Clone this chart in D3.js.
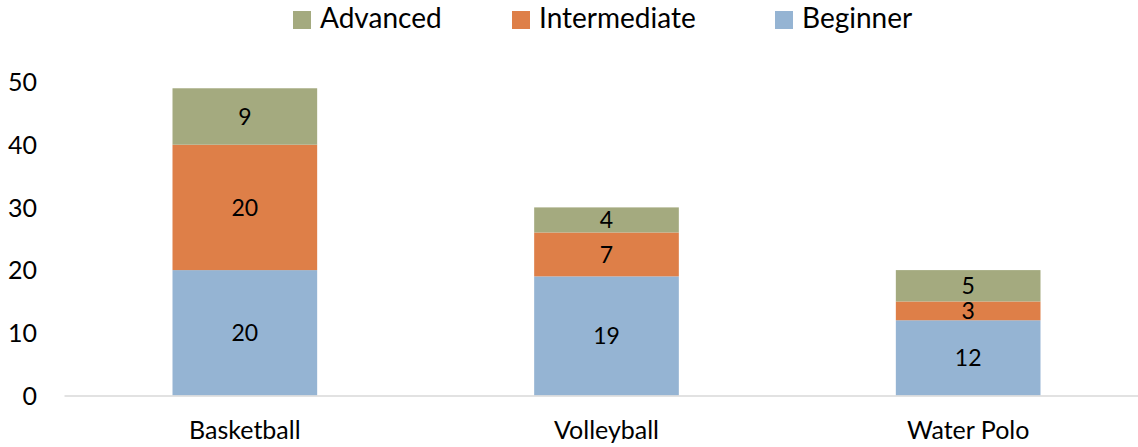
<!DOCTYPE html>
<html>
<head>
<meta charset="utf-8">
<script src="https://cdn.jsdelivr.net/npm/d3@7"></script>
<style>
  body { margin: 0; background: #fff; }
  text { font-family: Lato, "Open Sans", sans-serif; fill: #000; }
</style>
</head>
<body>
<svg id="chart"></svg>
<script>
// data
var sports = ["Basketball", "Volleyball", "Water Polo"];
var beginner = [20, 19, 12];
var intermediate = [20, 7, 3];
var advanced = [9, 4, 5];
var levels = ["Beginner", "Intermediate", "Advanced"];
var yTicks = [0, 10, 20, 30, 40, 50];

const dimensions = {
  width: 1138,
  height: 447,
  margin: { top: 82, bottom: 51.5, left: 64, right: -11 },
};

var colors = {
  Advanced: "#a4aa7f",
  Intermediate: "#de7f48",
  Beginner: "#95b4d3",
};

var rows = sports.map(function (s, i) {
  return { sport: s, Beginner: beginner[i], Intermediate: intermediate[i], Advanced: advanced[i] };
});

var stacked = d3.stack().keys(levels)(rows);

var svg = d3
  .select("#chart")
  .attr("width", dimensions.width)
  .attr("height", dimensions.height);

var innerH = dimensions.height - dimensions.margin.top - dimensions.margin.bottom;
var innerW = dimensions.width - dimensions.margin.left - dimensions.margin.right;

var g = svg
  .append("g")
  .attr("transform", "translate(" + dimensions.margin.left + "," + dimensions.margin.top + ")");

var xScale = d3
  .scaleBand()
  .domain(sports)
  .range([0, innerW])
  .paddingInner(0.6)
  .paddingOuter(0.3);

var yScale = d3.scaleLinear().domain([0, 50]).range([innerH, 0]);

// y tick labels only, no axis line
g.append("g")
  .call(d3.axisLeft(yScale).tickValues(yTicks).tickSize(0).tickPadding(27))
  .call(function (a) {
    a.select(".domain").remove();
    a.selectAll("text").style("font-size", "25px").attr("dy", "0.35em");
  });

// bars
g.selectAll(".layer")
  .data(stacked)
  .enter()
  .append("g")
  .attr("fill", function (d) { return colors[d.key]; })
  .selectAll("rect")
  .data(function (d) { return d; })
  .enter()
  .append("rect")
  .attr("x", function (d) { return xScale(d.data.sport); })
  .attr("y", function (d) { return yScale(d[1]); })
  .attr("width", xScale.bandwidth())
  .attr("height", function (d) { return yScale(d[0]) - yScale(d[1]); });

// value labels
stacked.forEach(function (layer) {
  g.selectAll(null)
    .data(layer)
    .enter()
    .append("text")
    .attr("x", function (d) { return xScale(d.data.sport) + xScale.bandwidth() / 2; })
    .attr("y", function (d) { return yScale((d[0] + d[1]) / 2); })
    .attr("dy", "0.36em")
    .attr("text-anchor", "middle")
    .style("font-size", "23px")
    .text(function (d) { return d[1] - d[0]; });
});

// x axis
g.append("g")
  .attr("transform", "translate(0," + innerH + ")")
  .call(d3.axisBottom(xScale).tickSize(0).tickPadding(26))
  .call(function (a) {
    a.select(".domain").attr("stroke", "#d9d9d9").attr("stroke-width", 1.5);
    a.selectAll("text").style("font-size", "25px");
  });

// legend
var legendItems = [
  { key: "Advanced", x: 293 },
  { key: "Intermediate", x: 512 },
  { key: "Beginner", x: 775 },
];
var legend = svg
  .selectAll(".legend")
  .data(legendItems)
  .enter()
  .append("g")
  .attr("transform", function (d) { return "translate(" + d.x + ",11)"; });
legend
  .append("rect")
  .attr("width", 18)
  .attr("height", 18)
  .attr("fill", function (d) { return colors[d.key]; });
legend
  .append("text")
  .attr("x", 27)
  .attr("y", 17)
  .style("font-size", "28px")
  .text(function (d) { return d.key; });
</script>
</body>
</html>
